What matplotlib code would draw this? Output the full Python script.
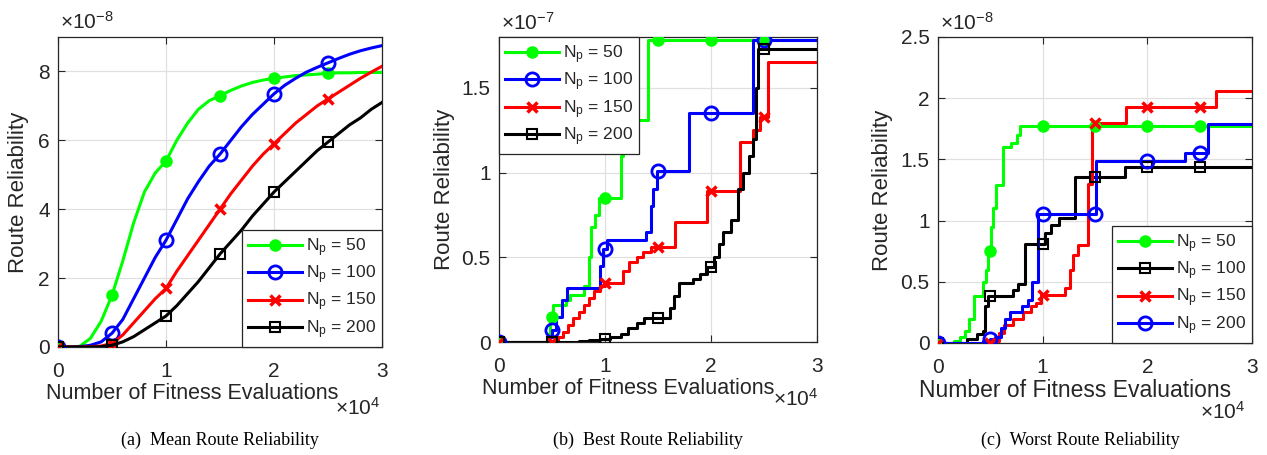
import numpy as np
import matplotlib
matplotlib.use("Agg")
import matplotlib.pyplot as plt
from matplotlib.ticker import FuncFormatter, FixedLocator

plt.rcParams['font.family'] = ['Liberation Sans', 'DejaVu Sans']
plt.rcParams['mathtext.fontset'] = 'custom'
plt.rcParams['mathtext.rm'] = 'Liberation Sans'
plt.rcParams['mathtext.it'] = 'Liberation Sans'

# ---------------- data ----------------
labels_a = ["50", "100", "150", "200"]

# (a) Mean route reliability (y in units of 1e-8)
mean_x = [0, 1000, 2000, 3000, 4000, 5000, 6000, 7000, 8000, 9000, 10000,
          11000, 12000, 13000, 14000, 15000, 16000, 17000, 18000, 19000, 20000,
          21000, 22000, 23000, 24000, 25000, 26000, 27000, 28000, 29000, 30000]
mean_50 = [0, 0, 0.02, 0.25, 0.75, 1.5, 2.5, 3.6, 4.5, 5.05, 5.4,
           6.0, 6.5, 6.9, 7.15, 7.3, 7.45, 7.58, 7.68, 7.75, 7.8,
           7.84, 7.88, 7.9, 7.92, 7.95, 7.96, 7.96, 7.97, 7.97, 7.97]
mean_100 = [0, 0, 0.01, 0.05, 0.15, 0.4, 0.8, 1.4, 2.0, 2.6, 3.1,
            3.7, 4.3, 4.8, 5.25, 5.6, 6.0, 6.4, 6.75, 7.05, 7.35,
            7.6, 7.8, 7.98, 8.12, 8.25, 8.38, 8.5, 8.6, 8.68, 8.75]
mean_150 = [0, 0, 0, 0.01, 0.03, 0.1, 0.35, 0.7, 1.05, 1.4, 1.7,
            2.2, 2.65, 3.1, 3.55, 4.0, 4.45, 4.85, 5.25, 5.6, 5.9,
            6.2, 6.5, 6.75, 7.0, 7.2, 7.4, 7.6, 7.8, 7.98, 8.15]
mean_200 = [0, 0, 0, 0, 0.01, 0.05, 0.15, 0.3, 0.5, 0.7, 0.9,
            1.2, 1.55, 1.9, 2.3, 2.7, 3.05, 3.4, 3.8, 4.15, 4.5,
            4.8, 5.1, 5.4, 5.7, 5.95, 6.2, 6.45, 6.65, 6.9, 7.1]

# (b) Best route reliability, step curves (y in units of 1e-7)
best_50_x = [0, 4600, 4800, 5100, 6300, 6700, 8000, 8500, 8700, 9050, 9400, 11500, 11700, 11900, 14100, 30000]
best_50_y = [0, 0.05, 0.15, 0.22, 0.25, 0.28, 0.33, 0.5, 0.68, 0.75, 0.85, 1.1, 1.2, 1.31, 1.78, 1.78]
best_100_x = [0, 4500, 5000, 5400, 5900, 6400, 9500, 9800, 10200, 13900, 14300, 14500, 14900, 17900, 24000, 30000]
best_100_y = [0, 0.03, 0.07, 0.15, 0.25, 0.32, 0.45, 0.55, 0.6, 0.65, 0.8, 0.9, 1.01, 1.35, 1.78, 1.78]
best_150_x = [0, 5600, 6000, 6500, 7000, 7500, 8000, 8500, 9000, 9500, 10000, 11700, 12300, 13000, 13600,
              14300, 16600, 19600, 22700, 24000, 24600, 25400, 30000]
best_150_y = [0, 0.03, 0.06, 0.1, 0.14, 0.18, 0.22, 0.26, 0.3, 0.33, 0.35, 0.42, 0.47, 0.5, 0.53,
              0.56, 0.71, 0.89, 1.18, 1.25, 1.33, 1.65, 1.65]
best_200_x = [0, 7500, 8500, 9500, 10500, 11500, 12200, 13000, 13700, 16100, 16500, 17000, 18300, 19000,
              19600, 20300, 20800, 21100, 21900, 22500, 23000, 23600, 24000, 24200, 24400, 30000]
best_200_y = [0, 0.005, 0.01, 0.02, 0.03, 0.05, 0.08, 0.11, 0.14, 0.2, 0.27, 0.35, 0.37, 0.4,
              0.44, 0.5, 0.58, 0.65, 0.72, 0.9, 1.0, 1.1, 1.2, 1.5, 1.73, 1.73]

# (c) Worst route reliability, step curves (y in units of 1e-8)
worst_50_x = [0, 1500, 2100, 2600, 3000, 3400, 4300, 4600, 4800, 5100, 5300, 5500, 6200, 7000, 7500, 7800, 30000]
worst_50_y = [0, 0.02, 0.05, 0.1, 0.2, 0.38, 0.5, 0.6, 0.75, 0.95, 1.1, 1.29, 1.6, 1.63, 1.7, 1.77, 1.77]
worst_100_x = [0, 2800, 3700, 4300, 4500, 4800, 7200, 7600, 8300, 10200, 10800, 11600, 13100, 17900, 30000]
worst_100_y = [0, 0.03, 0.07, 0.1, 0.3, 0.38, 0.43, 0.48, 0.81, 0.9, 0.96, 1.02, 1.36, 1.44, 1.44]
worst_150_x = [0, 5300, 5800, 6300, 7200, 8100, 8900, 9400, 9800, 12100, 12600, 12900, 13400, 14300, 14700,
               18000, 26600, 30000]
worst_150_y = [0, 0.02, 0.08, 0.15, 0.2, 0.25, 0.3, 0.33, 0.39, 0.45, 0.6, 0.72, 0.8, 1.3, 1.8,
               1.93, 2.06, 2.06]
worst_200_x = [0, 4300, 5000, 5400, 6000, 6400, 6900, 8000, 8600, 9000, 9600, 15100, 23600, 25800, 30000]
worst_200_y = [0, 0.02, 0.035, 0.05, 0.12, 0.2, 0.25, 0.3, 0.35, 0.5, 1.05, 1.49, 1.55, 1.79, 1.79]

marker_x = [0, 5000, 10000, 15000, 20000, 25000]
x_ticks = [0, 10000, 20000, 30000]
captions = ["(a)  Mean Route Reliability", "(b)  Best Route Reliability", "(c)  Worst Route Reliability"]

GREEN, BLUE, RED, BLACK = '#00ff00', '#0000ff', '#ff0000', '#000000'
styles = {
    'g': dict(color=GREEN, marker='o', mfc=GREEN, ms=7.5, mew=1.5),
    'b': dict(color=BLUE, marker='o', mfc='none', ms=9.5, mew=2.0),
    'r': dict(color=RED, marker='x', mfc='none', ms=6.5, mew=2.5),
    'k': dict(color=BLACK, marker='s', mfc='none', ms=7, mew=1.5),
}
LW = 2.2
TXT = '#262626'

fig = plt.figure(figsize=(12.67, 4.55), dpi=100)
W, H = 1267, 455

def make_ax(l, t, r, b):
    return fig.add_axes([l / W, 1 - b / H, (r - l) / W, (b - t) / H])

axA = make_ax(58, 37, 382, 347)
axB = make_ax(499, 37, 817, 342)
axC = make_ax(938, 37, 1252, 343)


def style_ax(ax, ymax, yticks, yscale, yexp, ylab_x, xlab_x, xlab_fs, off_x, off_y):
    ax.set_xlim(0, 30000)
    ax.set_ylim(0, ymax)
    ax.xaxis.set_major_locator(FixedLocator(x_ticks))
    ax.yaxis.set_major_locator(FixedLocator(yticks))
    ax.xaxis.set_major_formatter(FuncFormatter(lambda v, p: f"{v/1e4:g}"))
    ax.yaxis.set_major_formatter(FuncFormatter(lambda v, p: f"{v/yscale:g}"))
    ax.tick_params(direction='in', top=True, right=True, labelsize=15,
                   colors=TXT, length=5, width=0.8)
    ax.tick_params(axis='x', pad=11)
    ax.tick_params(axis='y', pad=6)
    ax.grid(True, color='#e0e0e0', lw=0.9)
    ax.set_axisbelow(True)
    for s in ax.spines.values():
        s.set_color(TXT)
        s.set_linewidth(0.9)
    ax.set_xlabel("Number of Fitness Evaluations", fontsize=xlab_fs, color=TXT,
                  labelpad=1, x=xlab_x)
    ax.set_ylabel("Route Reliability", fontsize=16, color=TXT)
    ax.yaxis.set_label_coords(ylab_x, 0.5)
    ax.text(0.005, 1.012, r"$\times10^{%d}$" % yexp, transform=ax.transAxes,
            fontsize=15, color=TXT, ha='left', va='bottom')
    ax.text(off_x, off_y, r"$\times10^{4}$", transform=ax.transAxes,
            fontsize=15, color=TXT, ha='right', va='top')


def label(n):
    return r"N$_{\mathregular{p}}$ = " + n


def step_plot(ax, xs, ys, scale, key, name):
    xs = np.asarray(xs, float)
    ys = np.asarray(ys, float) * scale
    st = styles[key]
    ax.plot(xs, ys, drawstyle='steps-post', color=st['color'], lw=LW, zorder=3)
    mx = np.asarray(marker_x, float)
    my = ys[np.searchsorted(xs, mx, side='right') - 1]
    ax.plot(mx, my, ls='none', zorder=4, **st)
    ax.plot([], [], lw=LW, label=label(name), **st)


def legend(ax, loc):
    lg = ax.legend(loc=loc, fontsize=12.5, borderaxespad=0, handlelength=3.1,
                   labelspacing=0.28, handletextpad=0.25, borderpad=0.35,
                   fancybox=False, framealpha=1, edgecolor=TXT)
    lg.get_frame().set_linewidth(0.9)
    for t in lg.get_texts():
        t.set_color(TXT)

# (a)
mx_idx = [mean_x.index(v) for v in marker_x]
for ys, key, name in zip([mean_50, mean_100, mean_150, mean_200], ['g', 'b', 'r', 'k'], labels_a):
    axA.plot(mean_x, np.asarray(ys) * 1e-8, lw=LW, markevery=mx_idx,
             label=label(name), zorder=3, **styles[key])
style_ax(axA, 9e-8, [0, 2e-8, 4e-8, 6e-8, 8e-8], 1e-8, -8, -0.09,
         0.414, 15.5, 0.994, -0.16)
legend(axA, 'lower right')

# (b)
for xs, ys, key, name in zip([best_50_x, best_100_x, best_150_x, best_200_x],
                             [best_50_y, best_100_y, best_150_y, best_200_y],
                             ['g', 'b', 'r', 'k'], labels_a):
    step_plot(axB, xs, ys, 1e-7, key, name)
style_ax(axB, 1.8e-7, [0, 0.5e-7, 1e-7, 1.5e-7], 1e-7, -7, -0.138,
         0.406, 15.5, 1.003, -0.15)
legend(axB, 'upper left')

# (c)
for xs, ys, key, name in zip([worst_50_x, worst_100_x, worst_150_x, worst_200_x],
                             [worst_50_y, worst_100_y, worst_150_y, worst_200_y],
                             ['g', 'k', 'r', 'b'], labels_a):
    step_plot(axC, xs, ys, 1e-8, key, name)
style_ax(axC, 2.5e-8, [0, 0.5e-8, 1e-8, 1.5e-8, 2e-8, 2.5e-8], 1e-8, -8, -0.143,
         0.435, 16.5, 0.98, -0.19)
legend(axC, 'lower right')

for cx, cap in zip([220, 648, 1080], captions):
    fig.text(cx / W, 1 - 440 / H, cap, fontsize=13, family='Liberation Serif',
             ha='center', va='center', color='black')

fig.savefig("out.png", dpi=100)
